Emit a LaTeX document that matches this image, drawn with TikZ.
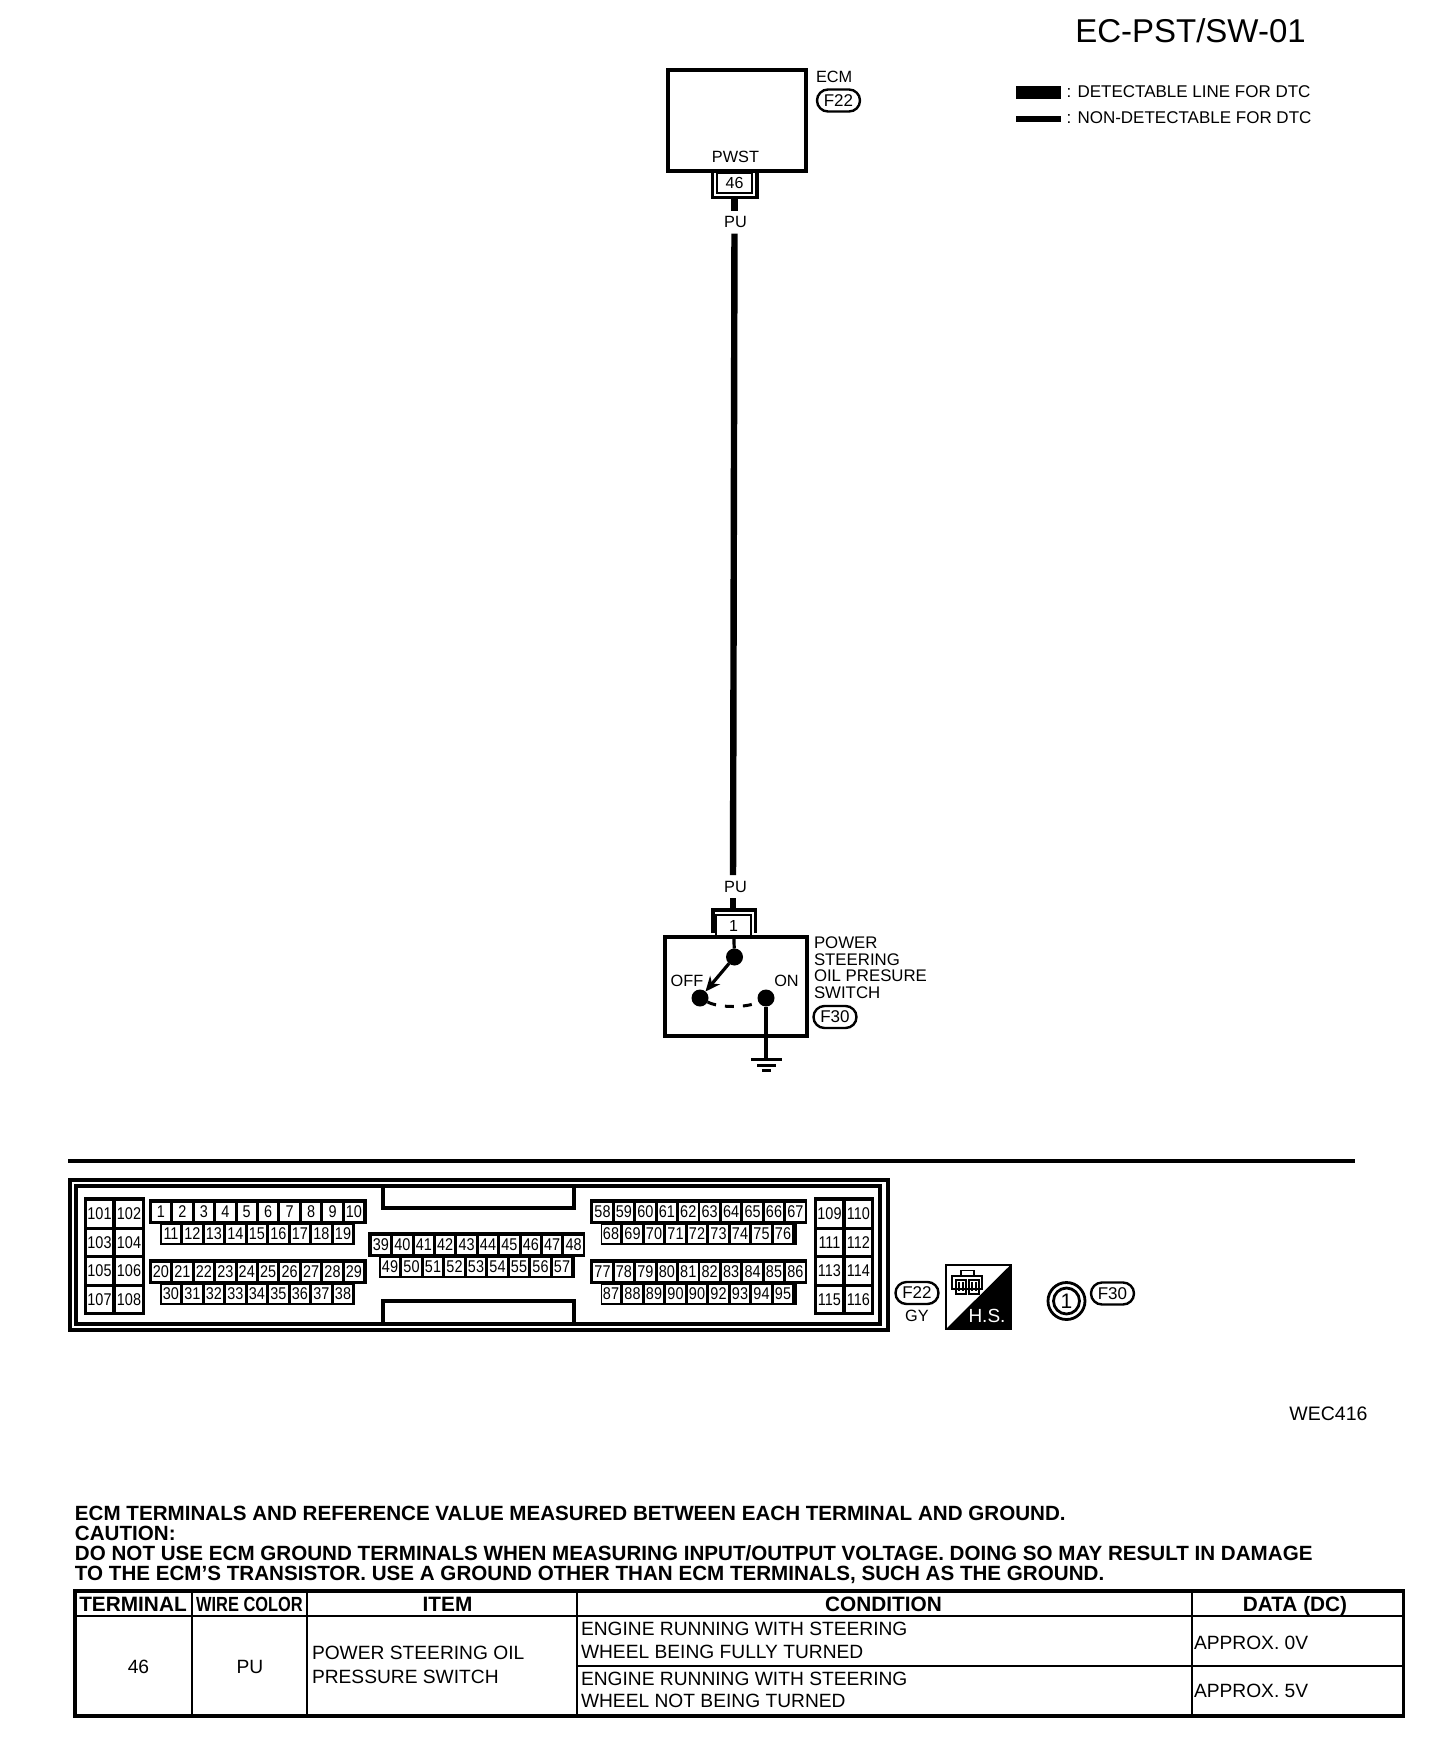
\documentclass[tikz,border=0pt]{standalone}
\usepackage{fontspec}
\setmainfont{Liberation Sans}
\newfontfamily\narrowf[FakeStretch=0.85]{Liberation Sans}
\newfontfamily\narrowb[FakeStretch=0.8]{Liberation Sans Bold}
\usetikzlibrary{shapes.misc,arrows.meta}
\newcommand\fpx[1]{\fontsize{\the\dimexpr#1pt/2\relax}{\the\dimexpr#1pt*3/5\relax}\selectfont}
\tikzset{
  lbl/.style={inner sep=0pt,outer sep=0pt,text depth=0pt,font=\fpx{16.3}},
  lblw/.style={lbl,anchor=west},
  pill/.style={lbl,draw,rounded rectangle,line width=1.2pt,minimum width=21.5pt,minimum height=11pt,font=\fpx{17}},
  cell/.style={inner sep=0pt,outer sep=0pt,fill=white,minimum width=9.25pt,minimum height=9pt,text depth=0pt,font=\narrowf\fpx{17}},
  bigcell/.style={cell,minimum width=12.6pt,minimum height=12.8pt},
  dotn/.style={circle,fill=black,inner sep=0pt,outer sep=0pt,minimum size=8.5pt},
  wire/.style={line width=3.2pt},
  thickl/.style={line width=1.6pt},
  thinl/.style={line width=1pt},
  bod/.style={lblw,font=\bfseries\fpx{20.6}},
  th/.style={lbl,font=\bfseries\fpx{20.8}},
  td/.style={lbl,font=\fpx{19.2}},
  tdw/.style={td,anchor=west},
}
\newcommand\cellrow[5]{%
  \foreach \n [count=\i from 0] in {#5}
    \node[cell] (#1\i) at ({#2+#3*\i},#4) {\n};}
\begin{document}
\begin{tikzpicture}[x=0.5pt,y=-0.5pt]
\useasboundingbox (0,0) rectangle (1440,1742);
\fill[white] (0,0) rectangle (1440,1742);

% title and legend
\node[lbl,font=\fpx{33}] (title) at (1190.5,30.5) {EC-PST/SW-01};
\fill (1016,86) rectangle (1061,99);
\fill (1016,116) rectangle (1061,122);
\node[lblw,font=\fpx{17}] (leg1) at (1066.5,91.5) {: DETECTABLE LINE FOR DTC};
\node[lblw,font=\fpx{17}] (leg2) at (1066.5,117.5) {: NON-DETECTABLE FOR DTC};

% ECM
\node[draw,thickl,minimum width=69pt,minimum height=50.5pt,inner sep=0pt,outer sep=0pt] (ecm) at (737,120.5) {};
\node[lblw] (ecmt) at (816,76.5) {ECM};
\node[pill] (f22a) at (838.5,100.5) {F22};
\node[lbl] (pwst) at (735.5,156.5) {PWST};
\node[draw,thinl,minimum width=17.5pt,minimum height=10pt,inner sep=0pt,outer sep=0pt,font=\fpx{16}] (t46) at (734.5,183) {46};
\draw[thickl] (712.5,173) -- (712.5,197.5) -- (757,197.5) -- (757,173);
\coordinate (u46) at (734.5,197);
\node[lbl,minimum height=11.5pt] (pu1) at (734.5,222) {\hspace*{1pt}PU};
\node[lbl,minimum height=11.5pt] (pu2) at (733,886.5) {\hspace*{2.5pt}PU};
\coordinate (u1) at (733,910);
\draw[wire] (u46) -- (pu1);
\draw[wire] (pu1) -- (pu2);
\draw[wire] (pu2) -- (u1);

% switch
\node[draw,thinl,minimum width=17.5pt,minimum height=11pt,inner sep=0pt,outer sep=0pt,font=\fpx{16}] (t1) at (733.5,926) {1};
\draw[thickl] (713,933) -- (713,910) -- (755.5,910) -- (755.5,933);
\node[draw,thickl,minimum width=71pt,minimum height=49.5pt,inner sep=0pt,outer sep=0pt] (sw) at (736,986.5) {};
\node[dotn] (dt) at (734.5,957) {};
\node[dotn] (doff) at (700,998) {};
\node[dotn] (don) at (766,998) {};
\draw[line width=1.6pt] (t1) -- (dt);
\draw[line width=1.6pt,-{Stealth[length=7.5pt,width=6.5pt]}] (dt) -- (doff);
\draw[line width=1.5pt,dash pattern=on 4.5pt off 4.5pt] (doff) .. controls (719,1008) and (747,1008) .. (don);
\coordinate (g1) at (766,1059);
\draw[line width=1.7pt] (don) -- (g1);
\draw[line width=1.5pt] (751,1059) -- (782,1059);
\draw[line width=1.5pt] (757,1065) -- (776,1065);
\draw[line width=1.5pt] (762,1070.5) -- (771,1070.5);
\node[lbl] (off) at (687,981) {OFF};
\node[lbl] (on) at (786.5,981) {ON};
\node[lblw,font=\fpx{16.8}] (s1) at (814,943) {POWER};
\node[lblw,font=\fpx{16.8}] (s2) at (814,959.5) {STEERING};
\node[lblw,font=\fpx{16.8}] (s3) at (814,976) {OIL PRESURE};
\node[lblw,font=\fpx{16.8}] (s4) at (814,993) {SWITCH};
\node[pill] (f30a) at (835,1017) {F30};

% rule
\draw[thickl] (68,1161) -- (1355,1161);

% connector outline
\draw[line width=2pt] (70,1180) rectangle (887.5,1330);
\draw[line width=2pt] (75.5,1185.5) rectangle (880,1323.5);
\draw[line width=2pt] (383,1186) -- (383,1208) -- (573.5,1208) -- (573.5,1186);
\draw[line width=2pt] (383,1323) -- (383,1300.5) -- (573.5,1300.5) -- (573.5,1323);

% pin blocks
\fill (84,1197) rectangle (145,1315);
\fill (813.5,1197) rectangle (873.5,1315);
\foreach \n/\cx/\cy in {101/99.5/1214,102/129/1214,103/99.5/1242.5,104/129/1242.5,105/99.5/1271,106/129/1271,107/99.5/1299.5,108/129/1299.5,
  109/829.5/1214,110/858.5/1214,111/829.5/1242.5,112/858.5/1242.5,113/829.5/1271,114/858.5/1271,115/829.5/1299.5,116/858.5/1299.5}
  \node[bigcell] (p\n) at (\cx,\cy) {\n};

\fill (149,1199) rectangle (367,1224);
\fill (160,1224) rectangle (355,1245);
\fill (149,1259) rectangle (367,1284);
\fill (160,1284) rectangle (355,1305);
\fill (368,1232) rectangle (584.5,1257);
\fill (379,1257) rectangle (574.5,1278);
\fill (589.5,1199) rectangle (806.5,1224);
\fill (600.5,1224) rectangle (796.5,1245);
\fill (589.5,1259) rectangle (806.5,1284);
\fill (600.5,1284) rectangle (796.5,1305);

\cellrow{ra}{161}{21.44}{1211.5}{1,2,3,4,5,6,7,8,9,10}
\cellrow{rb}{171}{21.5}{1233.5}{11,12,13,14,15,16,17,18,19}
\cellrow{rc}{161}{21.44}{1271.5}{20,21,22,23,24,25,26,27,28,29}
\cellrow{rd}{171}{21.5}{1294}{30,31,32,33,34,35,36,37,38}
\cellrow{re}{381}{21.4}{1245}{39,40,41,42,43,44,45,46,47,48}
\cellrow{rf}{390}{21.5}{1267}{49,50,51,52,53,54,55,56,57}
\cellrow{rg}{602.5}{21.44}{1211.5}{58,59,60,61,62,63,64,65,66,67}
\cellrow{rh}{611}{21.5}{1233.5}{68,69,70,71,72,73,74,75,76}
\cellrow{ri}{602.5}{21.44}{1271.5}{77,78,79,80,81,82,83,84,85,86}
\cellrow{rj}{611}{21.5}{1294}{87,88,89,90,90,92,93,94,95}

% connector keys
\node[pill] (f22b) at (917,1293) {F22};
\node[lbl] (gy) at (917,1316) {GY};
\fill[white] (946,1265) rectangle (1010.5,1329);
\fill (1010.5,1265) -- (1010.5,1329) -- (946,1329) -- cycle;
\draw[line width=1.1pt] (946,1265) rectangle (1010.5,1329);
\draw[line width=.7pt] (952,1276) rectangle (982,1289) (961,1276) -- (961,1270.5) -- (974,1270.5) -- (974,1276)
  (956,1280) rectangle (966,1294) (969,1280) rectangle (979,1294)
  (959,1282) -- (959,1291) (963,1282) -- (963,1291) (972,1282) -- (972,1291) (976,1282) -- (976,1291);
\node[lbl,text=white,font=\fpx{19}] (hs) at (987,1316) {H.S.};
\node[circle,draw,line width=1.4pt,minimum size=18.5pt,inner sep=0pt,outer sep=0pt] (c1o) at (1066.5,1301) {};
\node[circle,draw,line width=1.4pt,minimum size=13pt,inner sep=0pt,outer sep=0pt,font=\fpx{21}] (c1i) at (1066.5,1301) {1};
\node[pill] (f30b) at (1112.5,1293.5) {F30};

\node[lbl,font=\fpx{19.5}] (wec) at (1328.5,1413.5) {WEC416};

% notes
\node[bod] (n1) at (75,1513) {ECM TERMINALS AND REFERENCE VALUE MEASURED BETWEEN EACH TERMINAL AND GROUND.};
\node[bod] (n2) at (75,1533) {CAUTION:};
\node[bod] (n3) at (75,1553) {DO NOT USE ECM GROUND TERMINALS WHEN MEASURING INPUT/OUTPUT VOLTAGE. DOING SO MAY RESULT IN DAMAGE};
\node[bod] (n4) at (75,1573) {TO THE ECM'S TRANSISTOR. USE A GROUND OTHER THAN ECM TERMINALS, SUCH AS THE GROUND.};

% table
\draw[line width=1.8pt] (75,1591) rectangle (1403.5,1716);
\draw[line width=1pt] (75,1616) -- (1403.5,1616);
\draw[line width=1pt] (191.5,1591) -- (191.5,1716);
\draw[line width=1pt] (306.5,1591) -- (306.5,1716);
\draw[line width=1pt] (577,1591) -- (577,1716);
\draw[line width=1pt] (1191.5,1591) -- (1191.5,1716);
\draw[line width=.8pt] (577,1666) -- (1403.5,1666);
\node[th] (h1) at (133,1604) {TERMINAL};
\node[th,font=\narrowb\fpx{20.5}] (h2) at (249.5,1604) {WIRE COLOR};
\node[th] (h3) at (447.5,1604) {ITEM};
\node[th] (h4) at (883.5,1604) {CONDITION};
\node[th] (h5) at (1295,1604) {DATA (DC)};
\node[td] (d1) at (138.5,1667) {46};
\node[td] (d2) at (250,1667) {PU};
\node[tdw] (d3) at (312,1653) {POWER STEERING OIL};
\node[tdw] (d4) at (312,1677) {PRESSURE SWITCH};
\node[tdw] (d5) at (581,1629) {ENGINE RUNNING WITH STEERING};
\node[tdw] (d6) at (581,1652) {WHEEL BEING FULLY TURNED};
\node[tdw] (d7) at (581,1679) {ENGINE RUNNING WITH STEERING};
\node[tdw] (d8) at (581,1701) {WHEEL NOT BEING TURNED};
\node[tdw] (d9) at (1194,1643) {APPROX. 0V};
\node[tdw] (d10) at (1194,1691) {APPROX. 5V};
\end{tikzpicture}
\end{document}
